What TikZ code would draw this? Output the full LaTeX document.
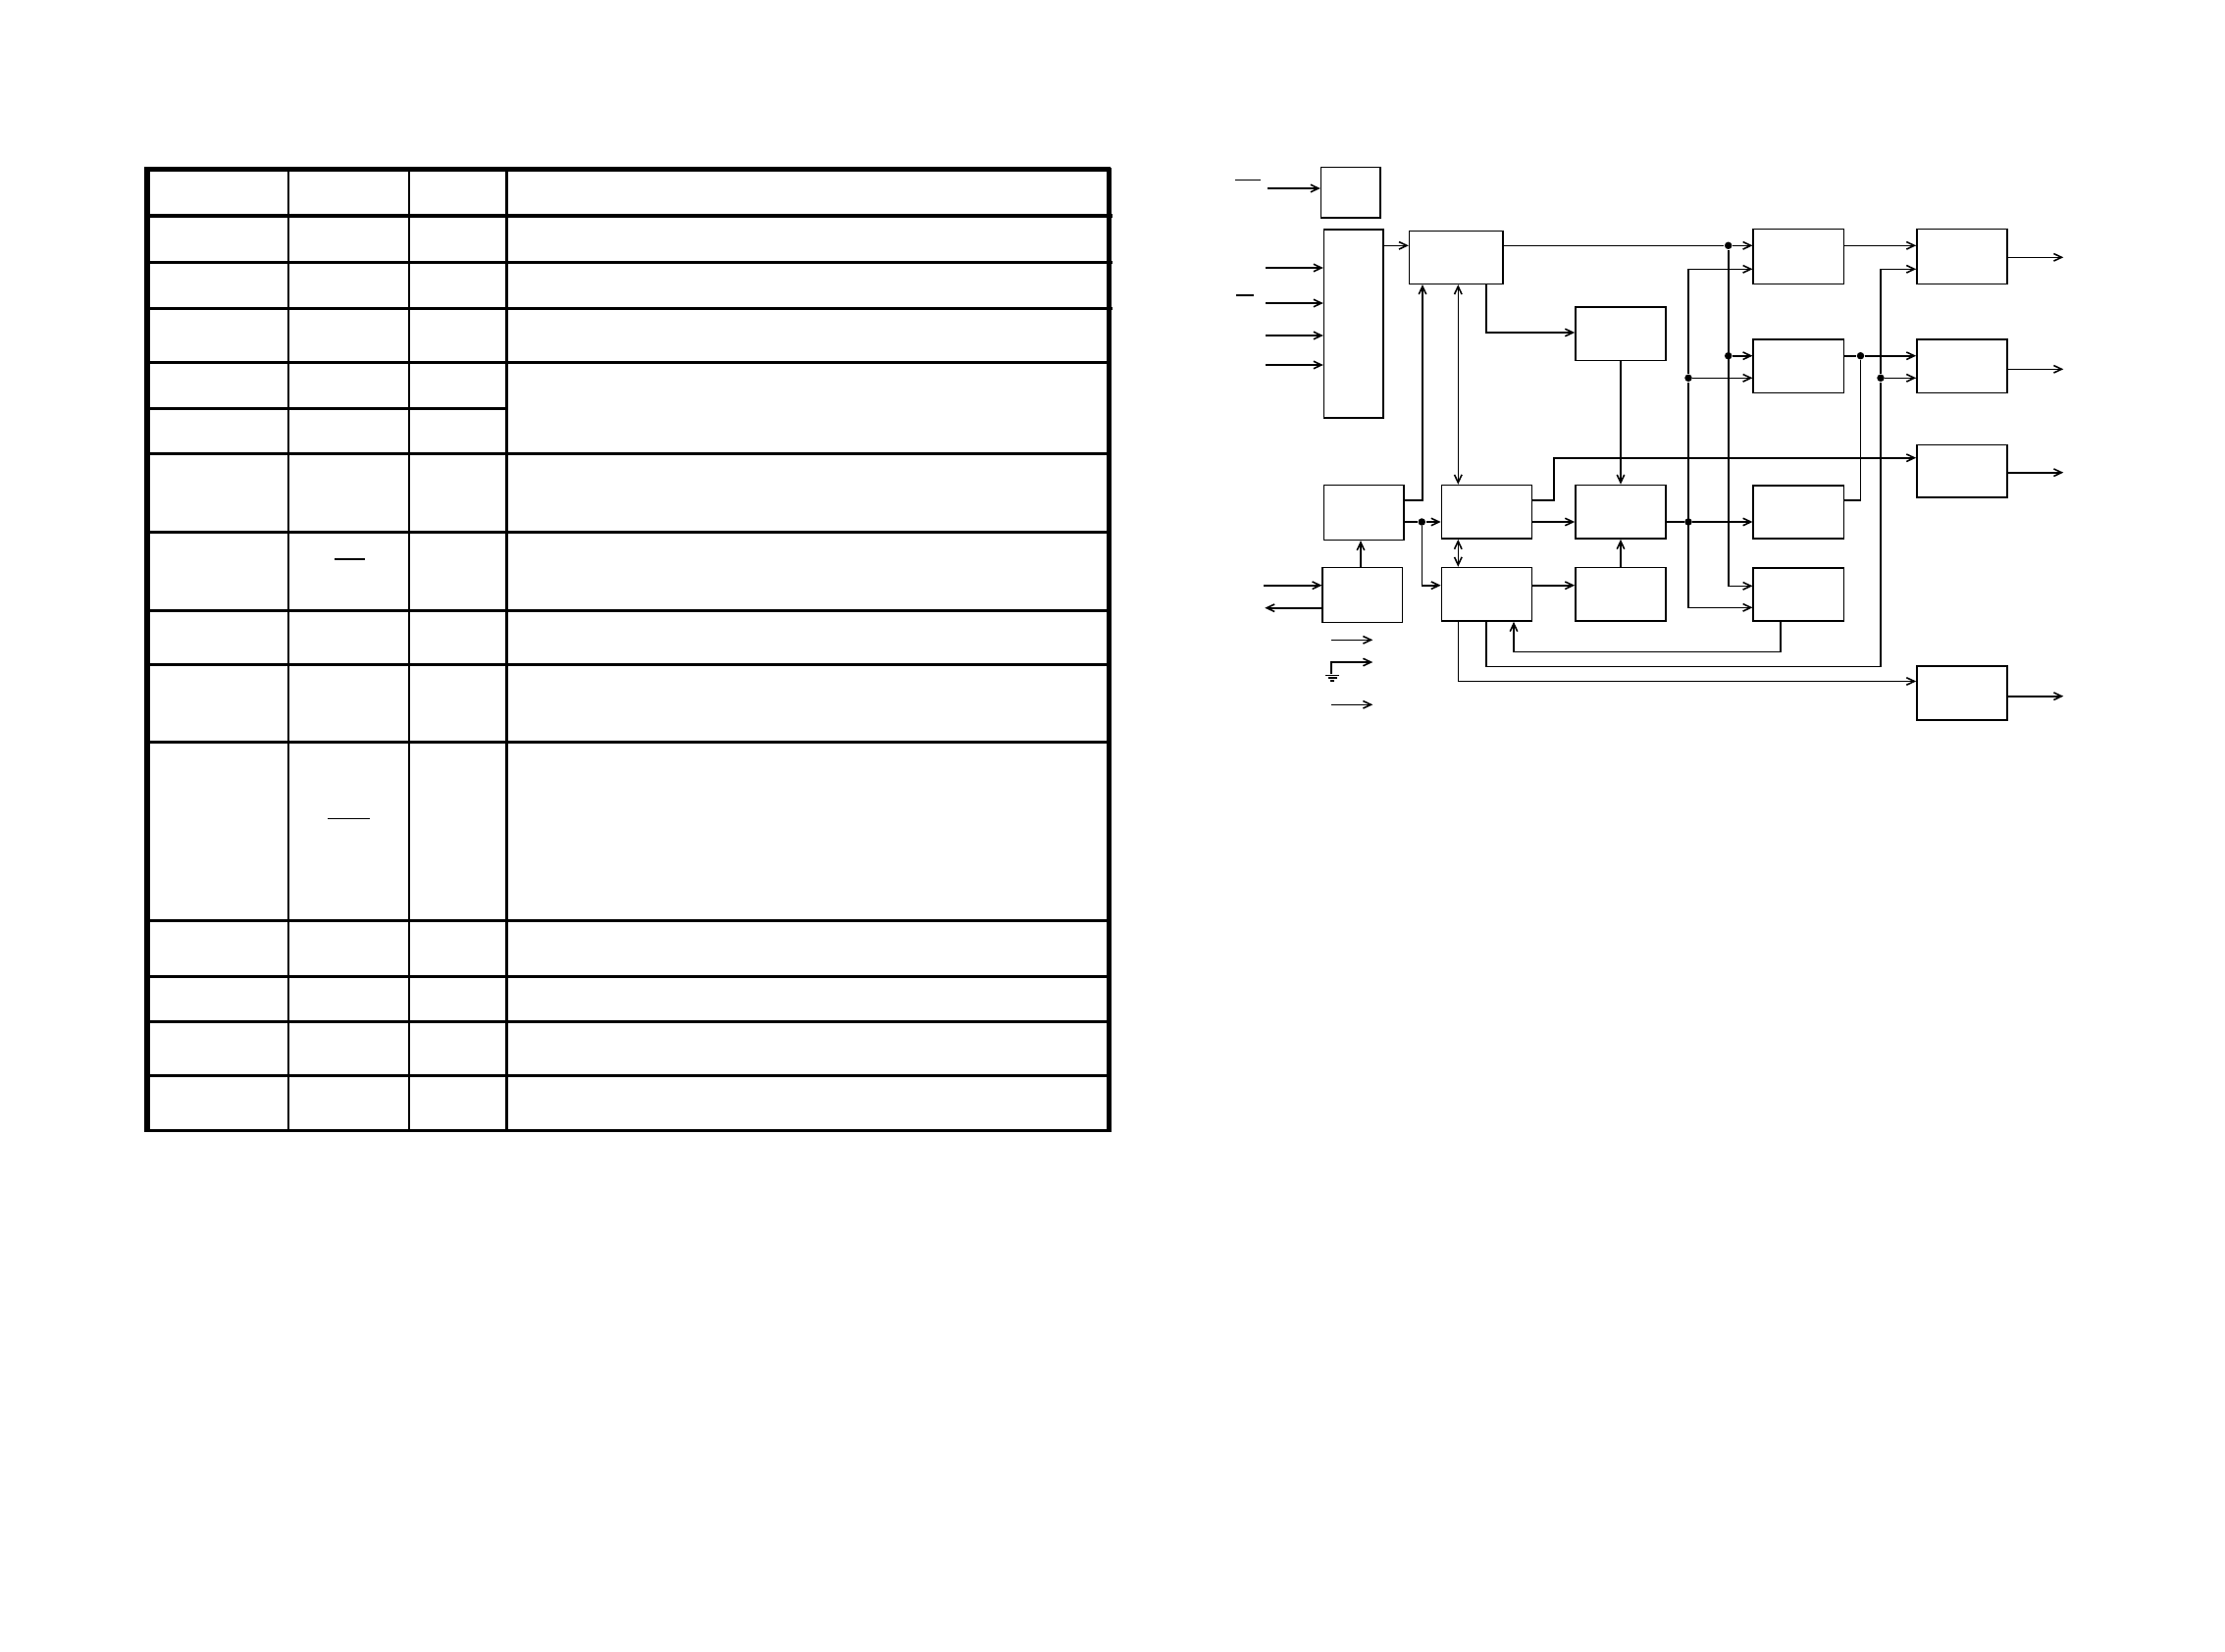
\documentclass[tikz,border=0pt]{standalone}
\usetikzlibrary{arrows.meta}

\begin{document}
\begin{tikzpicture}[x=0.01cm, y=-0.01cm,
  blk/.style={draw, line width=0.45pt, inner sep=0pt, minimum width=0.92cm, minimum height=0.545cm},
  wire/.style={line width=0.45pt},
  sig/.style={wire, -{Straight Barb[length=0.8mm,width=0.75mm]}},
  sigboth/.style={wire, {Straight Barb[length=0.8mm,width=0.75mm]}-{Straight Barb[length=0.8mm,width=0.75mm]}},
  dot/.style={circle, fill, inner sep=0pt, minimum size=0.075cm},
  rule/.style={line width=0.85pt},
  bar/.style={line width=0.35pt}]

\useasboundingbox (0,0) rectangle (2268,1684);

% ---- pin table -------------------------------------------------------------
\draw[line width=1.3pt] (150,172.5) -- (1132,172.5);
\draw[line width=1.1pt] (150,220.3) -- (1134,220.3);
\foreach \y in {267.3,314.3}
  \draw[rule] (150,\y) -- (1134,\y);
\foreach \y in {369.3,462.3,542.4,622,677,756.5,938.7,995.1,1041.4,1096.4,1152.5}
  \draw[rule] (150,\y) -- (1130,\y);
\draw[rule] (150,416.5) -- (516.5,416.5);
\foreach \x in {294,417,516.5}
  \draw[rule] (\x,172.5) -- (\x,1152.5);
\draw[line width=1.55pt] (150,170) -- (150,1154);
\draw[line width=1.35pt] (1130.3,170.5) -- (1130.3,1154);
\draw[bar] (341,570) -- (371.5,570);
\draw[bar] (334,834.6) -- (376.5,834.6);

% ---- blocks ----------------------------------------------------------------
\node[blk, minimum width=0.603cm, minimum height=0.513cm] (ena) at (1376.8,196.3) {};
\node[blk, minimum width=0.603cm, minimum height=1.92cm] (inp) at (1379.8,330) {};
\node[blk, minimum width=0.95cm, minimum height=0.54cm] (ctl) at (1484.2,262.3) {};
\node[blk] (ref) at (1652,340.3) {};
\node[blk, minimum width=0.817cm, minimum height=0.556cm] (osc) at (1390.2,522.5) {};
\node[blk, minimum width=0.81cm, minimum height=0.556cm] (ser) at (1388.8,606.5) {};
\node[blk] (seq) at (1515.5,521.8) {};
\node[blk] (reg) at (1515.5,605.8) {};
\node[blk] (pwm) at (1652,521.8) {};
\node[blk] (dac) at (1652,605.8) {};
\node[blk, minimum height=0.556cm] (drvA) at (1833.3,261.5) {};
\node[blk] (drvB) at (1833.3,373.3) {};
\node[blk] (drvC) at (1833.3,522) {};
\node[blk] (drvD) at (1833.3,606) {};
\node[blk, minimum height=0.556cm] (outA) at (2000,261.5) {};
\node[blk] (outB) at (2000,373.3) {};
\node[blk, minimum height=0.534cm] (outC) at (2000,480) {};
\node[blk] (outD) at (2000,706.5) {};

% ---- junctions -------------------------------------------------------------
\node[dot] (j1) at (1761.7,250.3) {};
\node[dot] (j2) at (1761.7,362.7) {};
\node[dot] (j3) at (1449.3,532) {};
\node[dot] (j4) at (1721,532) {};
\node[dot] (j5) at (1721,385.3) {};
\node[dot] (j6) at (1896.5,362.7) {};
\node[dot] (j7) at (1917,385.3) {};

% ---- inputs on the left ----------------------------------------------------
\draw[bar] (1259,183.3) -- (1285,183.3);
\draw[bar] (1259.7,301) -- (1278,301);
\coordinate (inEn) at (1292,192);
\draw[sig] (inEn) -- (inEn -| ena.west);
\foreach \y [count=\i] in {273,309,342,372} {
  \coordinate (in\i) at (1290,\y);
  \draw[sig] (in\i) -- (in\i -| inp.west);
}
\coordinate (inSer) at (1288.3,596.7);
\draw[sig] (inSer) -- (inSer -| ser.west);
\coordinate (outSer) at (1289.3,619.7);
\draw[sig] (outSer -| ser.west) -- (outSer);

% ---- control path ----------------------------------------------------------
\draw[sig] (inp.east |- j1) -- (ctl.west |- j1);
\draw[sig] (ctl.east |- j1) -- (j1) -- (drvA.west |- j1);
\draw[sig] (j1) -- (1761.7,597.3) -- (drvD.west |- 0,597.3);
\draw[sig] (j2) -- (j2 -| drvB.west);
\draw[sig] (1515,0 |- ctl.south) |- (ref.west |- 0,339);
\draw[sig] (ref.south) -- (pwm.north);
\draw[sig] (dac.north) -- (pwm.south);

% ---- oscillator / sequencer ------------------------------------------------
\draw[sig] (osc.east |- 0,510) -| (1450,0 |- ctl.south);
\draw[sig] (osc.east |- j3) -- (j3) -- (seq.west |- j3);
\draw[sig] (j3) |- (reg.west |- 0,596.7);
\draw[sig] (1387,0 |- ser.north) -- (1387,0 |- osc.south);
\draw[sigboth] (1486.3,0 |- ctl.south) -- (1486.3,0 |- seq.north);
\draw[sigboth] (1486.3,0 |- seq.south) -- (1486.3,0 |- reg.north);
\draw[sig] (seq.east |- 0,510) -- (1583.7,510) |- (outC.west |- 0,466.7);
\draw[sig] (seq.east |- 0,532) -- (pwm.west |- 0,532);
\draw[sig] (reg.east |- 0,596.7) -- (dac.west |- 0,596.7);

% ---- drivers ---------------------------------------------------------------
\draw[sig] (pwm.east |- j4) -- (j4) -- (drvC.west |- j4);
\draw[sig] (j5) |- (drvA.west |- 0,274.3);
\draw[sig] (j5) -- (j5 -| drvB.west);
\draw[sig] (j5) |- (drvD.west |- 0,619.3);
\draw[sig] (drvA.east |- j1) -- (outA.west |- j1);
\draw[sig] (drvB.east |- j6) -- (j6) -- (outB.west |- j6);
\draw[wire] (drvC.east |- 0,510) -| (j6);

% ---- feedback lines --------------------------------------------------------
\draw[sig] (j7) |- (outA.west |- 0,274.3);
\draw[sig] (j7) -- (j7 -| outB.west);
\draw[wire] (1515,0 |- reg.south) |- (1917,679.5) -- (j7);
\draw[sig] (1486.3,0 |- reg.south) |- (outD.west |- 0,694.5);
\draw[sig] (1815,0 |- drvD.south) |- (1543,664.5) -- (1543,0 |- reg.south);

% ---- outputs ---------------------------------------------------------------
\foreach \b/\y in {outA/262.3, outB/376.3, outC/481.7, outD/709.7}
  \draw[sig] (\b.east |- 0,\y) -- (2103.3,\y);

% ---- supply pins -----------------------------------------------------------
\draw[sig] (1356.7,652.3) -- (1399.3,652.3);
\draw[sig] (1357,687.3) -- (1357,675) -- (1399.3,675);
\draw[wire] (1351,688.3) -- (1365,688.3) (1353.5,691) -- (1362.5,691) (1356,693.7) -- (1360,693.7);
\draw[sig] (1356.7,718.3) -- (1399.3,718.3);

\end{tikzpicture}
\end{document}
